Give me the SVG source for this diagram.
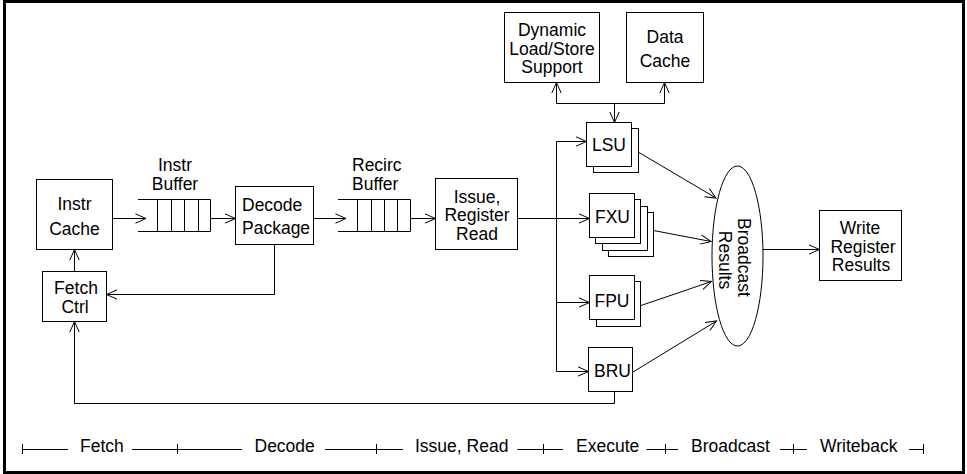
<svg xmlns="http://www.w3.org/2000/svg" width="967" height="474" viewBox="0 0 967 474">
  <style>
    .box { fill: #fff; stroke: #000; stroke-width: 1; }
    .ln { fill: none; stroke: #000; stroke-width: 1; }
    .arr { fill: none; stroke: #000; stroke-width: 1; marker-end: url(#open); }
    text { font-family: "Liberation Sans", Arial, sans-serif; font-size: 17.5px; fill: #000; }
    .c { text-anchor: middle; }
  </style>
  <defs>
    <marker id="open" markerUnits="userSpaceOnUse" markerWidth="14" markerHeight="12" refX="11" refY="6" orient="auto">
      <path d="M0.4,1.3 L11,6 L0.4,10.7" fill="none" stroke="#000" stroke-width="1"/>
    </marker>
  </defs>

  <rect x="0" y="0" width="967" height="474" fill="#fff"/>
  <!-- frame -->
  <rect x="4.5" y="1.5" width="959" height="471" fill="none" stroke="#000" stroke-width="3"/>

  <!-- connectors -->
  <g id="connectors">
    <line class="arr" x1="112.5" y1="218.5" x2="146" y2="218.5"/>
    <line class="arr" x1="210.5" y1="218.5" x2="235.5" y2="218.5"/>
    <line class="arr" x1="313.5" y1="218.5" x2="346" y2="218.5"/>
    <line class="arr" x1="410.5" y1="218.5" x2="435.5" y2="218.5"/>
    <!-- issue bus -->
    <line class="arr" x1="517.5" y1="218.5" x2="589.5" y2="218.5"/>
    <line class="ln" x1="556.5" y1="141.5" x2="556.5" y2="371.5"/>
    <line class="arr" x1="556.5" y1="141.5" x2="586.5" y2="141.5"/>
    <line class="arr" x1="556.5" y1="302.5" x2="589.5" y2="302.5"/>
    <line class="arr" x1="556.5" y1="371.5" x2="588.5" y2="371.5"/>
    <!-- memory side of LSU -->
    <line class="ln" x1="556.5" y1="103.5" x2="664.5" y2="103.5"/>
    <line class="arr" x1="556.5" y1="103.5" x2="556.5" y2="82.5"/>
    <line class="arr" x1="664.5" y1="103.5" x2="664.5" y2="82.5"/>
    <line class="arr" x1="614.5" y1="103.5" x2="614.5" y2="122.5"/>
    <!-- results to broadcast -->
    <line class="arr" x1="639" y1="152.5" x2="716" y2="198"/>
    <line class="arr" x1="653.5" y1="230.5" x2="711" y2="241.5"/>
    <line class="arr" x1="641" y1="305.5" x2="711.5" y2="281.5"/>
    <line class="arr" x1="633" y1="372" x2="716.5" y2="321"/>
    <line class="arr" x1="762.8" y1="249.5" x2="819.5" y2="249.5"/>
    <!-- feedback paths -->
    <polyline class="arr" points="274.5,244.5 274.5,294.5 106.5,294.5"/>
    <polyline class="arr" points="614.5,391.5 614.5,403.5 74.5,403.5 74.5,321.5"/>
    <line class="arr" x1="74.5" y1="271.5" x2="74.5" y2="249.5"/>
  </g>

  <g id="instr-cache">
    <rect class="box" x="36.5" y="179.5" width="76" height="70"/>
    <text class="c" x="74.5" y="210">Instr</text>
    <text class="c" x="74.5" y="235">Cache</text>
  </g>

  <g id="instr-buffer">
    <text class="c" x="175" y="170.5">Instr</text>
    <text class="c" x="175" y="189.5">Buffer</text>
    <path class="ln" d="M138,199.5 H210.5 V231.5 H138 M157.5,199.5 V231.5 M171.5,199.5 V231.5 M184.5,199.5 V231.5 M198.5,199.5 V231.5"/>
  </g>

  <g id="decode">
    <rect class="box" x="235.5" y="186.5" width="78" height="58"/>
    <text x="242" y="211">Decode</text>
    <text x="242" y="234">Package</text>
  </g>

  <g id="recirc-buffer">
    <text x="352" y="170.5">Recirc</text>
    <text x="352" y="189.5">Buffer</text>
    <path class="ln" d="M338,199.5 H410.5 V231.5 H338 M357.5,199.5 V231.5 M371.5,199.5 V231.5 M384.5,199.5 V231.5 M397.5,199.5 V231.5"/>
  </g>

  <g id="issue">
    <rect class="box" x="435.5" y="178.5" width="82" height="71"/>
    <text class="c" x="477" y="202.5">Issue,</text>
    <text class="c" x="477" y="221">Register</text>
    <text class="c" x="477" y="239.5">Read</text>
  </g>

  <g id="fetch-ctrl">
    <rect class="box" x="42.5" y="271.5" width="64" height="50"/>
    <text class="c" x="76" y="293.5">Fetch</text>
    <text class="c" x="75" y="312.5">Ctrl</text>
  </g>

  <g id="dynamic-ls">
    <rect class="box" x="504.5" y="12.5" width="95" height="70"/>
    <text class="c" x="552" y="36">Dynamic</text>
    <text class="c" x="552" y="55">Load/Store</text>
    <text class="c" x="552" y="73">Support</text>
  </g>

  <g id="data-cache">
    <rect class="box" x="626.5" y="12.5" width="77" height="70"/>
    <text class="c" x="665" y="43">Data</text>
    <text class="c" x="665" y="67">Cache</text>
  </g>

  <g id="lsu">
    <rect class="box" x="593.5" y="128.5" width="45" height="44"/>
    <rect class="box" x="586.5" y="122.5" width="45" height="44"/>
    <text class="c" x="609" y="150.5">LSU</text>
  </g>

  <g id="fxu">
    <rect class="box" x="608.5" y="212.5" width="45" height="44"/>
    <rect class="box" x="602.5" y="206.5" width="45" height="44"/>
    <rect class="box" x="595.5" y="199.5" width="45" height="44"/>
    <rect class="box" x="589.5" y="193.5" width="45" height="44"/>
    <text class="c" x="612.5" y="222.5">FXU</text>
  </g>

  <g id="fpu">
    <rect class="box" x="596.5" y="281.5" width="44" height="45"/>
    <rect class="box" x="589.5" y="275.5" width="45" height="44"/>
    <text class="c" x="612" y="307">FPU</text>
  </g>

  <g id="bru">
    <rect class="box" x="588.5" y="347.5" width="44" height="44"/>
    <text class="c" x="612.5" y="376.5">BRU</text>
  </g>

  <g id="broadcast">
    <ellipse class="box" cx="737.5" cy="256" rx="25.5" ry="90"/>
    <text class="c" transform="translate(737.5,257.5) rotate(90)">Broadcast</text>
    <text class="c" transform="translate(719,260) rotate(90)">Results</text>
  </g>

  <g id="write-results">
    <rect class="box" x="819.5" y="210.5" width="82" height="70"/>
    <text class="c" x="860" y="233.5">Write</text>
    <text class="c" x="863" y="253">Register</text>
    <text class="c" x="861" y="271">Results</text>
  </g>

  <!-- pipeline stage scale -->
  <g id="stages">
    <path class="ln" d="M22.5,449.5 H68 M132,449.5 H242 M325,449.5 H403 M517.5,449.5 H563 M646.5,449.5 H678 M780,449.5 H807 M909,449.5 H923.5"/>
    <path class="ln" d="M22.5,444 V454 M177.5,444 V454 M376.5,444 V454 M543.5,444 V454 M665.5,444 V454 M793.5,444 V454 M923.5,444 V454"/>
    <text x="80" y="452">Fetch</text>
    <text x="254.5" y="452">Decode</text>
    <text x="415" y="452">Issue, Read</text>
    <text x="576" y="452">Execute</text>
    <text x="691" y="452">Broadcast</text>
    <text x="820" y="452">Writeback</text>
  </g>
</svg>
